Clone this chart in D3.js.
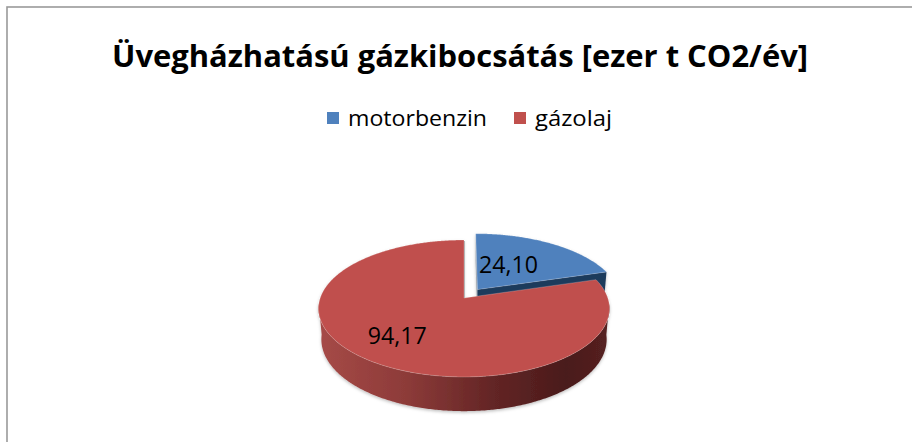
<!DOCTYPE html>
<html>
<head>
<meta charset="utf-8">
<script src="https://cdn.jsdelivr.net/npm/d3@7"></script>
<style>
  html, body { margin: 0; padding: 0; background: #fff; }
  svg { display: block; }
</style>
</head>
<body>
<svg id="chart" width="912" height="442"></svg>
<script>
// ---- data ----
const title = "Üvegházhatású gázkibocsátás [ezer t CO2/év]";
const categories = ["motorbenzin", "gázolaj"];
const values = [24.10, 94.17];
const exploded = [true, false];

// ---- styles ----
const topColors = ["#4f81bd", "#c0504d"];
const radialColors = ["#1f3a5c", "#7a2d2b"];
const fontFamily = "'Open Sans', 'Noto Sans', sans-serif";

const svg = d3.select("#chart");
const W = 912, H = 442;

// chart frame
svg.append("rect")
  .attr("x", 7).attr("y", 7).attr("width", W + 20).attr("height", H + 20)
  .attr("fill", "#fff").attr("stroke", "#9a9a9a").attr("stroke-width", 1.6);

// title
svg.append("text")
  .attr("x", 460).attr("y", 67)
  .attr("text-anchor", "middle")
  .attr("font-family", fontFamily).attr("font-weight", 700)
  .attr("font-size", 31)
  .attr("textLength", 696).attr("lengthAdjust", "spacingAndGlyphs")
  .attr("fill", "#000")
  .text(title);

// legend
const legendTextWidths = [139, 77];
const legend = svg.append("g").attr("transform", "translate(327,112)");
let lx = 0;
categories.forEach((c, i) => {
  const g = legend.append("g").attr("transform", `translate(${lx},0)`);
  g.append("rect").attr("width", 12).attr("height", 12).attr("fill", topColors[i]);
  g.append("text").attr("x", 21).attr("y", 13.5)
    .attr("font-family", fontFamily).attr("font-size", 21.5)
    .attr("textLength", legendTextWidths[i]).attr("lengthAdjust", "spacingAndGlyphs")
    .attr("fill", "#000").text(c);
  lx += 21 + legendTextWidths[i] + 27;
});

// ---- 3D pie projection ----
const cx = 464, cy = 298;      // projected centre
const S = 143.8;               // scale (radius at centre depth)
const sinE = 0.465, cosE = 0.885;
const K = 0.173;               // perspective strength R/D
const Hh = 0.245;              // thickness relative to radius
const explodeDist = 0.16;

function proj(x, y, z) {
  const den = 1 + K * (y * cosE - z * sinE);
  return [cx + S * x / den, cy - S * (y * sinE + z * cosE) / den];
}

const pie = d3.pie().sort(null).value(d => d).startAngle(0).endAngle(2 * Math.PI);
const arcs = pie(values);

arcs.forEach((a, i) => {
  const mid = (a.startAngle + a.endAngle) / 2;
  a.ox = exploded[i] ? explodeDist * Math.sin(mid) : 0;
  a.oy = exploded[i] ? explodeDist * Math.cos(mid) : 0;
  a.mid = mid;
});

const line = d3.line();
function arcPts(a, t0, t1, z) {
  const n = Math.max(2, Math.ceil((t1 - t0) / 0.01));
  const pts = [];
  for (let k = 0; k <= n; k++) {
    const t = t0 + (t1 - t0) * k / n;
    pts.push(proj(a.ox + Math.sin(t), a.oy + Math.cos(t), z));
  }
  return pts;
}
function topPath(a) {
  const pts = [proj(a.ox, a.oy, 0)].concat(arcPts(a, a.startAngle, a.endAngle, 0));
  return line(pts) + "Z";
}
function sidePath(a, t0, t1) {
  const top = arcPts(a, t0, t1, 0);
  const bot = arcPts(a, t0, t1, -Hh).reverse();
  return line(top.concat(bot)) + "Z";
}
function radialPath(a, t) {
  const pts = [
    proj(a.ox, a.oy, 0),
    proj(a.ox + Math.sin(t), a.oy + Math.cos(t), 0),
    proj(a.ox + Math.sin(t), a.oy + Math.cos(t), -Hh),
    proj(a.ox, a.oy, -Hh)
  ];
  return line(pts) + "Z";
}

const defs = svg.append("defs");
const xl = proj(-1, 0, 0)[0] - 2, xr = proj(1, 0, 0)[0] + 2;
const grad = defs.append("linearGradient").attr("id", "sideRed")
  .attr("gradientUnits", "userSpaceOnUse")
  .attr("x1", xl).attr("x2", xr).attr("y1", 0).attr("y2", 0);
[[0, "#a64a47"], [0.3, "#8d3b39"], [0.6, "#632525"], [0.85, "#4a1b1b"], [1, "#562121"]]
  .forEach(([o, c]) => grad.append("stop").attr("offset", o).attr("stop-color", c));

const shadow = defs.append("filter").attr("id", "shadow")
  .attr("x", "-10%").attr("y", "-10%").attr("width", "120%").attr("height", "130%");
shadow.append("feDropShadow").attr("dx", 0).attr("dy", 1.5).attr("stdDeviation", 1.5)
  .attr("flood-color", "#000").attr("flood-opacity", 0.25);

const pieG = svg.append("g").attr("filter", "url(#shadow)");

const visA = 95 * Math.PI / 180, visB = 265 * Math.PI / 180;

const blue = arcs[0], red = arcs[1];

// blue radial faces
pieG.append("path").attr("d", radialPath(blue, blue.startAngle)).attr("fill", "#9aa3ad");
pieG.append("path").attr("d", radialPath(blue, blue.endAngle)).attr("fill", radialColors[0]);
{
  const t0 = Math.max(blue.startAngle, visA), t1 = Math.min(blue.endAngle, visB);
  if (t1 > t0) pieG.append("path").attr("d", sidePath(blue, t0, t1)).attr("fill", "#2a4a72");
}
pieG.append("path").attr("d", topPath(blue)).attr("fill", topColors[0])
  .attr("stroke", "rgba(255,255,255,0.35)").attr("stroke-width", 0.6);

// red outer side
{
  const t0 = Math.max(red.startAngle, visA), t1 = Math.min(red.endAngle, visB);
  pieG.append("path").attr("d", sidePath(red, t0, t1)).attr("fill", "url(#sideRed)");
}
pieG.append("path").attr("d", topPath(red)).attr("fill", topColors[1])
  .attr("stroke", "rgba(255,255,255,0.35)").attr("stroke-width", 0.6);
{
  const p0 = proj(red.ox, red.oy, 0), p1 = proj(red.ox + Math.sin(2 * Math.PI), red.oy + Math.cos(2 * Math.PI), 0);
  svg.append("line").attr("x1", p0[0] + 0.5).attr("y1", p0[1]).attr("x2", p1[0] + 0.5).attr("y2", p1[1] + 1)
    .attr("stroke", "#b5b5b5").attr("stroke-width", 1);
}

// data labels
const fmt = v => d3.format(".2f")(v).replace(".", ",");
const labelRadius = [0.42, 0.69];
const labelDy = [4, 6];
arcs.forEach((a, i) => {
  const r = labelRadius[i];
  const p = proj(a.ox + r * Math.sin(a.mid), a.oy + r * Math.cos(a.mid), 0);
  svg.append("text")
    .attr("x", p[0] - 2).attr("y", p[1] + labelDy[i])
    .attr("text-anchor", "middle")
    .attr("font-family", fontFamily).attr("font-size", 23.5)
    .attr("textLength", 59).attr("lengthAdjust", "spacingAndGlyphs")
    .attr("fill", "#000")
    .text(fmt(values[i]));
});
</script>
</body>
</html>
